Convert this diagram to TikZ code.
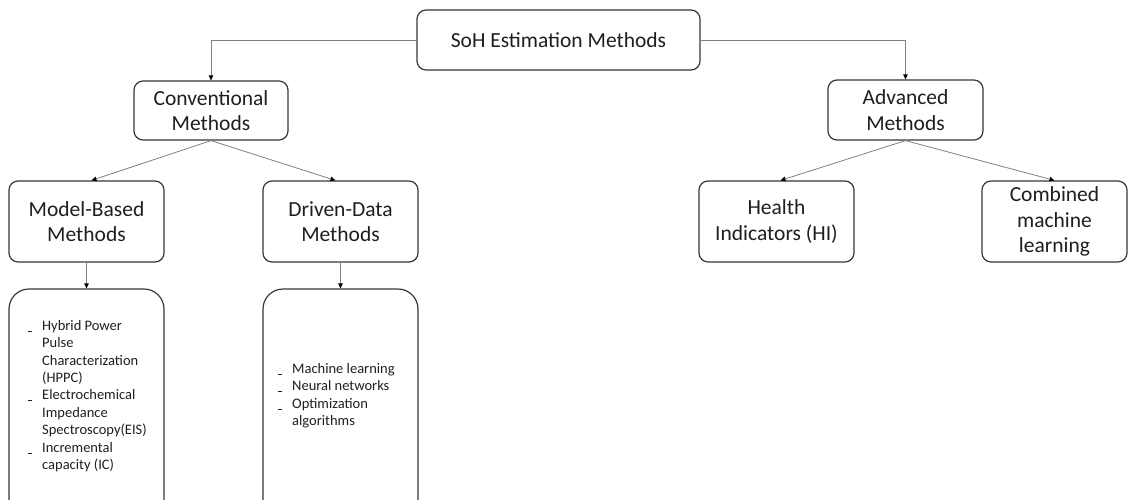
\documentclass[tikz,border=0pt]{standalone}
\usepackage{fontspec}
\setmainfont{Carlito}
\usetikzlibrary{arrows.meta}
\newcommand\itm{\makebox[14pt][l]{\rule[-1.5pt]{4pt}{0.9pt}}}
\newcommand\ind{\hspace*{14pt}}
\begin{document}
\begin{tikzpicture}[x=1pt,y=-1pt,
  box/.style={draw=black!78,line width=1.2pt,rounded corners=9pt,fill=white,
    align=center,inner sep=0pt,text=black!88,
    font=\fontsize{21.5}{25.5}\selectfont},
  listbox/.style={draw=black!78,line width=1.2pt,rounded corners=20pt},
  listtext/.style={anchor=north west,inner sep=0pt,align=left,text=black!88,
    font=\fontsize{14.5}{17.4}\selectfont},
  conn/.style={draw=black!50,line width=0.8pt,
    -{Triangle[length=5pt,width=4.5pt,fill=black,color=black]}}]
\useasboundingbox (0,0) rectangle (1128,499);
\clip (0,0) rectangle (1128,499);
\node[box,minimum width=283pt,minimum height=60pt] (soh) at (558.5,40) {SoH Estimation Methods};
\node[box,minimum width=154pt,minimum height=59pt] (conv) at (211,110.5) {Conventional\\Methods};
\node[box,minimum width=155pt,minimum height=60pt] (adv) at (905.5,110) {Advanced\\Methods};
\node[box,minimum width=155pt,minimum height=81pt] (model) at (86.5,221.5) {Model-Based\\Methods};
\node[box,minimum width=155pt,minimum height=81pt] (driven) at (340.5,221.5) {Driven-Data\\Methods};
\node[box,minimum width=155pt,minimum height=81pt] (health) at (776.5,221.5) {Health\\Indicators (HI)};
\node[box,minimum width=145pt,minimum height=81pt] (comb) at (1054.5,221.5) {Combined\\machine\\learning};
\node[listbox,minimum width=155pt,minimum height=231pt] (list1) at (86.5,404.5) {};
\node[listbox,minimum width=155pt,minimum height=231pt] (list2) at (340.5,404.5) {};
\node[listtext] (t1) at (28,320) {\itm Hybrid Power\\\ind Pulse\\\ind Characterization\\\ind (HPPC)\\\itm Electrochemical\\\ind Impedance\\\ind Spectroscopy(EIS)\\\itm Incremental\\\ind capacity (IC)};
\node[listtext] (t2) at (278,363) {\itm Machine learning\\\itm Neural networks\\\itm Optimization\\\ind algorithms};
\draw[conn] (soh.west) -| (conv.north);
\draw[conn] (soh.east) -| (adv.north);
\draw[conn] (conv.south) -- ([xshift=5pt]model.north);
\draw[conn] (conv.south) -- ([xshift=-5pt]driven.north);
\draw[conn] (adv.south) -- ([xshift=4pt]health.north);
\draw[conn] (adv.south) -- (comb.north);
\draw[conn] (model.south) -- (list1.north);
\draw[conn] (driven.south) -- (list2.north);
\end{tikzpicture}
\end{document}
